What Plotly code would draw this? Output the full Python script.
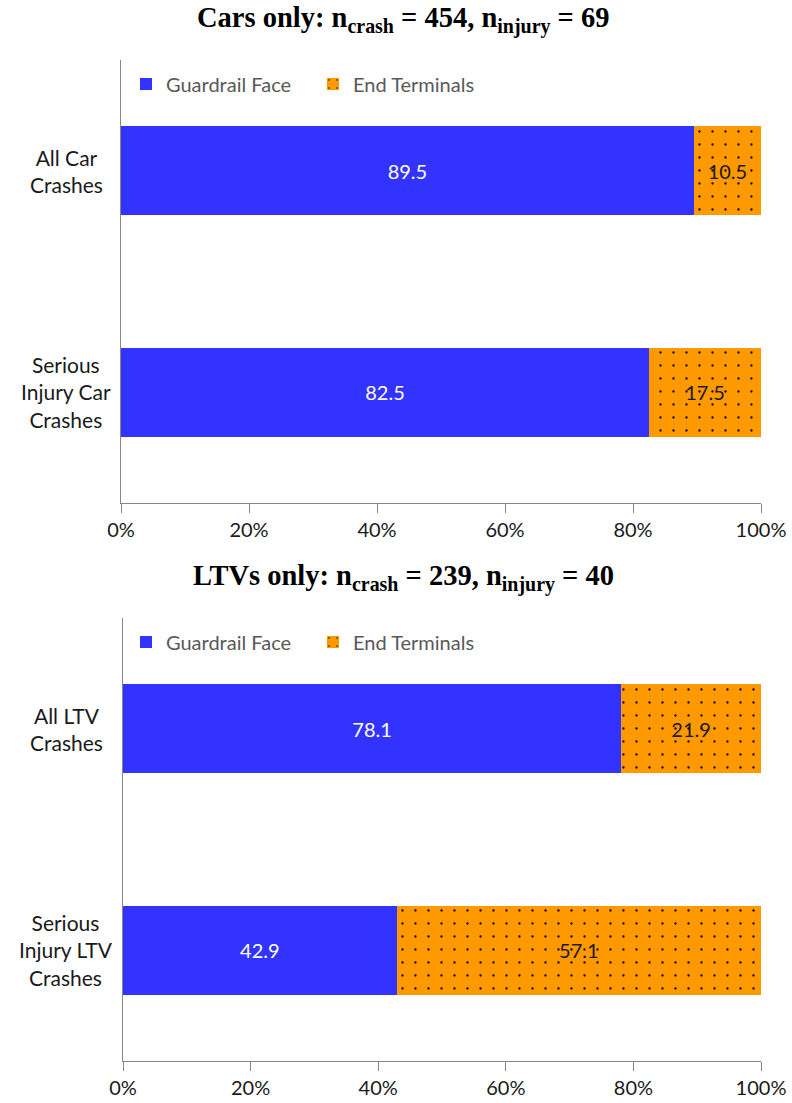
import plotly.graph_objects as go

# ---- data ----
car_categories = ["All Car Crashes", "Serious Injury Car Crashes"]
car_labels = ["All Car<br>Crashes", "Serious<br>Injury Car<br>Crashes"]
car_guardrail = [89.5, 82.5]
car_end = [10.5, 17.5]

ltv_categories = ["All LTV Crashes", "Serious Injury LTV Crashes"]
ltv_labels = ["All LTV<br>Crashes", "Serious<br>Injury LTV<br>Crashes"]
ltv_guardrail = [78.1, 42.9]
ltv_end = [21.9, 57.1]

series_names = ["Guardrail Face", "End Terminals"]
x_ticks = [0, 20, 40, 60, 80, 100]
x_ticklabels = ["0%", "20%", "40%", "60%", "80%", "100%"]

titles = ["Cars only: n<sub>crash</sub> = 454, n<sub>injury</sub> = 69",
          "LTVs only: n<sub>crash</sub> = 239, n<sub>injury</sub> = 40"]

# ---- styles ----
BLUE = "#3333FF"
ORANGE = "#FF9900"
FONT = "Lato"
W, H = 792, 1103

pattern = dict(shape=".", fgcolor="black", bgcolor=ORANGE, size=13,
               solidity=0.025, fillmode="replace")

fig = go.Figure()

panels = [
    (car_categories, car_guardrail, car_end, "x", "y", "legend"),
    (ltv_categories, ltv_guardrail, ltv_end, "x2", "y2", "legend2"),
]
for cats, g, e, xa, ya, lg in panels:
    fig.add_trace(go.Bar(
        y=cats, x=g, orientation="h", name=series_names[0],
        marker=dict(color=BLUE, line=dict(width=0)),
        text=g, texttemplate="%{x:.1f}", textposition="inside",
        insidetextanchor="middle", constraintext="none",
        textfont=dict(family=FONT, size=20, color="white"),
        width=0.4, xaxis=xa, yaxis=ya, legend=lg, hoverinfo="skip"))
    fig.add_trace(go.Bar(
        y=cats, x=e, orientation="h", name=series_names[1],
        marker=dict(color=ORANGE, line=dict(width=0), pattern=pattern),
        text=e, texttemplate="%{x:.1f}", textposition="inside",
        insidetextanchor="middle", constraintext="none",
        textfont=dict(family=FONT, size=20, color="#1a1a1a"),
        width=0.4, xaxis=xa, yaxis=ya, legend=lg, hoverinfo="skip"))

def px_y(p):
    return 1 - p / H

xaxis_common = dict(range=[0, 100], tickvals=x_ticks, ticktext=x_ticklabels,
                    ticks="outside", ticklen=9, tickcolor="#868686", tickwidth=1,
                    showline=True, linecolor="#868686", linewidth=1,
                    showgrid=False, zeroline=False, fixedrange=True, automargin=False,
                    tickfont=dict(family=FONT, size=20, color="#1a1a1a"))
yaxis_common = dict(showline=True, linecolor="#868686", linewidth=1,
                    showgrid=False, zeroline=False, showticklabels=False,
                    ticks="", autorange="reversed", automargin=False)

legend_common = dict(orientation="h", bgcolor="rgba(0,0,0,0)",
                     font=dict(family=FONT, size=20, color="#595959"),
                     xanchor="left", yanchor="middle", itemclick=False,
                     traceorder="normal", itemwidth=30,
                     entrywidth=142, entrywidthmode="pixels")

fig.update_layout(
    width=W, height=H, margin=dict(l=0, r=0, t=0, b=0, autoexpand=False),
    plot_bgcolor="white", paper_bgcolor="white",
    barmode="stack", bargap=0.6, showlegend=True,
    xaxis=dict(domain=[121 / W, 761 / W], anchor="y", **xaxis_common),
    yaxis=dict(domain=[px_y(503), px_y(60)], anchor="x", **yaxis_common),
    xaxis2=dict(domain=[123 / W, 761 / W], anchor="y2", **xaxis_common),
    yaxis2=dict(domain=[px_y(1061), px_y(618)], anchor="x2", **yaxis_common),
    legend=dict(x=126 / W, y=px_y(84), **legend_common),
    legend2=dict(x=126 / W, y=px_y(642), **legend_common),
)

annotations = []
for t, ypx in zip(titles, [20, 578]):
    annotations.append(dict(text="<b>" + t + "</b>", xref="paper", yref="paper",
                            x=403 / W, y=px_y(ypx), xanchor="center", yanchor="middle",
                            showarrow=False,
                            font=dict(family="Liberation Serif", size=28.5, color="black")))
for cats, labels, ya in [(car_categories, car_labels, "y"), (ltv_categories, ltv_labels, "y2")]:
    for c, lab in zip(cats, labels):
        annotations.append(dict(text=lab, xref="paper", yref=ya, x=66 / W, y=c,
                                xanchor="center", yanchor="middle", align="center",
                                showarrow=False,
                                font=dict(family=FONT, size=21, color="#1a1a1a")))
fig.update_layout(annotations=annotations)

fig.write_html("out.html")
